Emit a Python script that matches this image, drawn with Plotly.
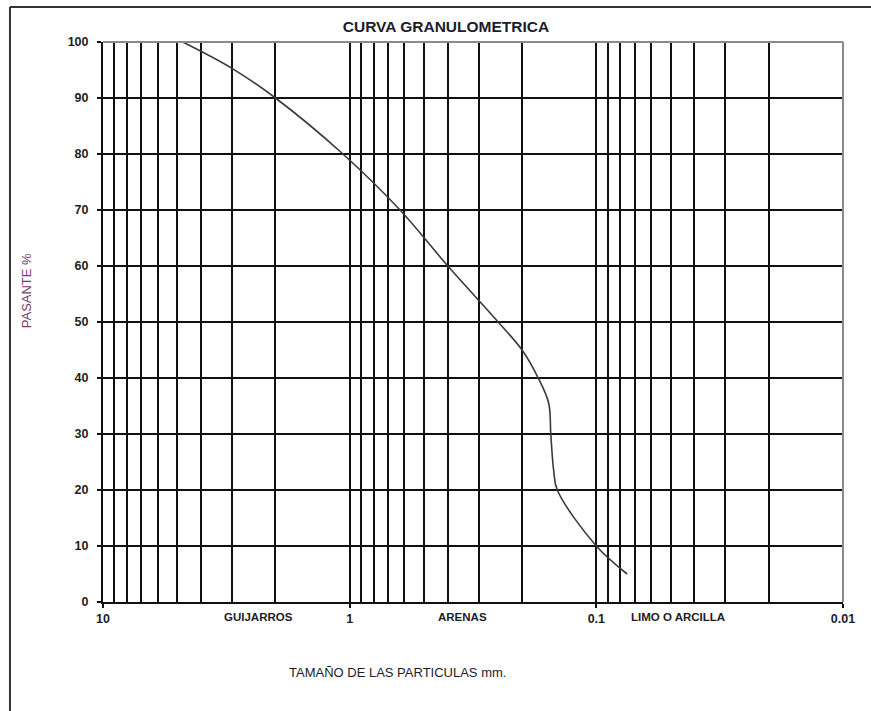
import math
import plotly.graph_objects as go

# Grain-size distribution: particle diameter (mm) vs. percent passing
diametro_mm = [4.75, 3.0, 2.0, 1.09, 0.625, 0.40, 0.25, 0.20,
               0.172, 0.156, 0.153, 0.149, 0.144, 0.10, 0.075]
pasante_pct = [100, 95.3, 90, 80.4, 70, 60, 50, 45,
               40, 35.5, 30, 23.6, 20, 10, 5]

# Axis ticks
x_major = [10, 1, 0.1, 0.01]
x_major_text = ["10", "1", "0.1", "0.01"]
x_minor = [m * dec for dec in (1, 0.1, 0.01) for m in range(2, 10)] + [1, 0.1]
y_ticks = list(range(0, 101, 10))

# Soil-class labels placed along the size axis
clases = ["GUIJARROS", "ARENAS", "LIMO O ARCILLA"]
clases_x = [2.34, 0.35, 0.0466]

FONT = "Liberation Sans, Arial, sans-serif"
TXT = "#1c1c2a"
GRID = "#111111"

fig = go.Figure()
fig.add_trace(go.Scatter(
    x=diametro_mm, y=pasante_pct, mode="lines",
    line=dict(color="#3a3a3a", width=1.6, shape="spline", smoothing=1.0),
    hoverinfo="x+y", showlegend=False,
))

for name, xv in zip(clases, clases_x):
    fig.add_annotation(
        x=math.log10(xv), xref="x", y=0, yref="paper", yshift=-15,
        text=f"<b>{name}</b>", showarrow=False,
        font=dict(family=FONT, size=11.5, color=TXT),
        xanchor="center", yanchor="middle",
    )

fig.add_annotation(
    x=0.3986, xref="paper", y=-0.125, yref="paper",
    text="TAMAÑO DE LAS PARTICULAS mm.", showarrow=False,
    font=dict(family=FONT, size=13, color=TXT),
    xanchor="center", yanchor="middle",
)
fig.add_annotation(
    x=-0.104, xref="paper", y=0.555, yref="paper",
    text="PASANTE %", showarrow=False, textangle=-90,
    font=dict(family=FONT, size=13, color="#7d3a6e"),
    xanchor="center", yanchor="middle",
)

# Grey top/right border of the plot area
fig.add_shape(type="line", xref="paper", yref="paper", x0=0, x1=1, y0=1, y1=1,
              line=dict(color="#8a8a8a", width=2), layer="above")
fig.add_shape(type="line", xref="paper", yref="paper", x0=1, x1=1, y0=0, y1=1,
              line=dict(color="#8a8a8a", width=2), layer="above")
# Outer page frame
fig.add_shape(type="line", xref="paper", yref="paper",
              x0=-0.1257, x1=-0.1257, y0=-0.2, y1=1.0625,
              line=dict(color="#333333", width=2))
fig.add_shape(type="line", xref="paper", yref="paper",
              x0=-0.1257, x1=1.05, y0=1.0625, y1=1.0625,
              line=dict(color="#333333", width=2))

fig.update_layout(
    width=871, height=711,
    margin=dict(l=103, r=28, t=42, b=109),
    paper_bgcolor="white", plot_bgcolor="white",
    title=dict(
        text="<b>CURVA GRANULOMETRICA</b>",
        x=446 / 871, xref="container", xanchor="center",
        y=1 - 27 / 711, yref="container", yanchor="middle",
        font=dict(family=FONT, size=15.5, color=TXT),
    ),
    xaxis=dict(
        type="log", range=[1, -2], autorange=False,
        tickmode="array", tickvals=x_major, ticktext=x_major_text,
        ticks="outside", ticklen=4, tickwidth=1.5, tickcolor="#111",
        tickfont=dict(family=FONT, size=12.5, color=TXT, weight="bold"),
        showgrid=True, gridcolor=GRID, gridwidth=2,
        minor=dict(tickmode="array", tickvals=x_minor, showgrid=True,
                   gridcolor=GRID, gridwidth=2, ticks=""),
        showline=True, linecolor="#111", linewidth=2,
        zeroline=False,
    ),
    yaxis=dict(
        range=[0, 100], autorange=False,
        tickmode="array", tickvals=y_ticks,
        ticks="outside", ticklen=4, tickwidth=1.5, tickcolor="#111",
        tickfont=dict(family=FONT, size=12.5, color=TXT, weight="bold"),
        ticklabelstandoff=6,
        showgrid=True, gridcolor=GRID, gridwidth=2,
        showline=True, linecolor="#111", linewidth=2,
        zeroline=False,
    ),
)

fig.write_html("out.html")
